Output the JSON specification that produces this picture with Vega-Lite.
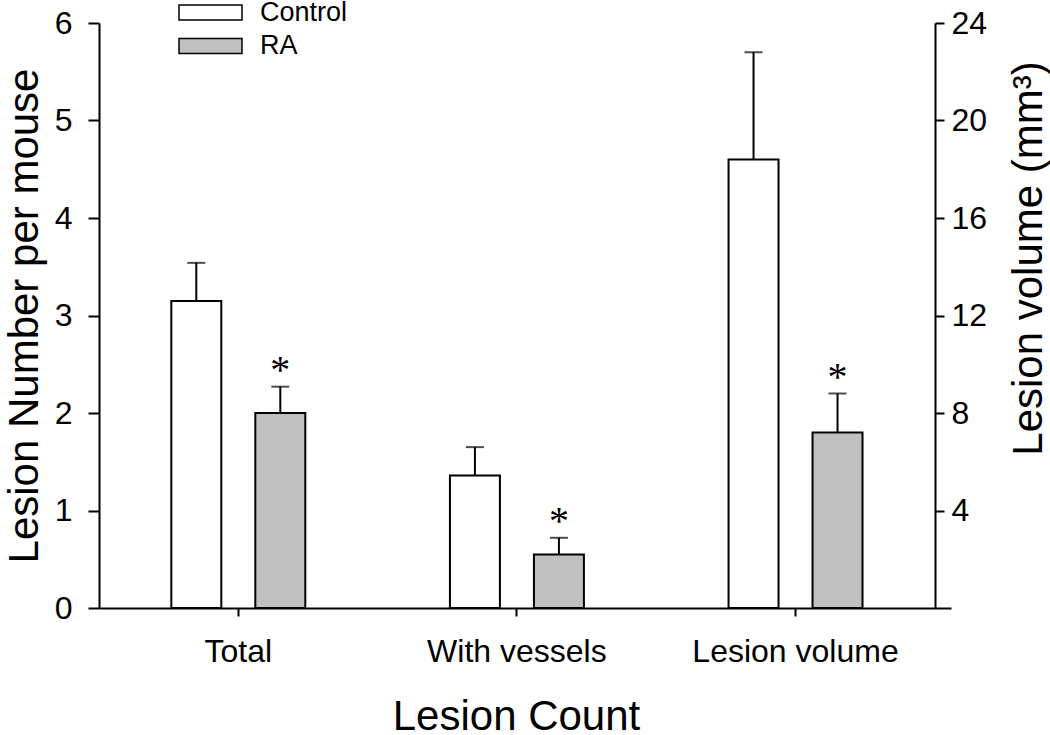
{
  "$schema": "https://vega.github.io/schema/vega-lite/v6.json",
  "width": 852,
  "height": 585,
  "autosize": {"type": "none"},
  "padding": {"left": 99, "top": 23, "right": 99, "bottom": 127},
  "background": "white",
  "config": {
    "view": {"stroke": null},
    "font": "Liberation Sans",
    "axis": {
      "labelFont": "Liberation Sans",
      "titleFont": "Liberation Sans",
      "labelFontSize": 32,
      "titleFontSize": 42,
      "titleFontWeight": "normal",
      "labelColor": "black",
      "titleColor": "black",
      "domainColor": "black",
      "tickColor": "black",
      "domainWidth": 2,
      "tickWidth": 2,
      "labelLimit": 0,
      "grid": false
    },
    "legend": {
      "labelFont": "Liberation Sans",
      "labelFontSize": 27,
      "labelColor": "black"
    }
  },
  "data": {
    "values": [
      {"group": "Total", "treatment": "Control", "value": 3.15, "upper": 3.54, "measure": "count", "star": ""},
      {"group": "Total", "treatment": "RA", "value": 2.0, "upper": 2.27, "measure": "count", "star": "*"},
      {"group": "With vessels", "treatment": "Control", "value": 1.36, "upper": 1.65, "measure": "count", "star": ""},
      {"group": "With vessels", "treatment": "RA", "value": 0.55, "upper": 0.72, "measure": "count", "star": "*"},
      {"group": "Lesion volume", "treatment": "Control", "value": 18.4, "upper": 22.8, "measure": "volume", "star": ""},
      {"group": "Lesion volume", "treatment": "RA", "value": 7.2, "upper": 8.8, "measure": "volume", "star": "*"}
    ]
  },
  "encoding": {
    "x": {
      "field": "group",
      "type": "nominal",
      "sort": ["Total", "With vessels", "Lesion volume"],
      "scale": {"domain": ["Total", "With vessels", "Lesion volume"], "paddingInner": 0, "paddingOuter": 0.029, "align": 0},
      "axis": {"title": "Lesion Count", "labelAngle": 0, "tickSize": 8, "labelPadding": 20, "titlePadding": 29, "titleX": 417}
    },
    "xOffset": {
      "field": "treatment",
      "type": "nominal",
      "scale": {"domain": ["Control", "RA"], "paddingInner": 0.405, "paddingOuter": 0.861}
    }
  },
  "layer": [
    {
      "transform": [{"filter": "datum.measure == 'count'"}],
      "encoding": {
        "y": {
          "field": "value",
          "type": "quantitative",
          "scale": {"domain": [0, 6], "nice": false, "zero": true},
          "axis": {"orient": "left", "title": "Lesion Number per mouse", "values": [0, 1, 2, 3, 4, 5, 6], "tickSize": 11, "labelPadding": 16, "titlePadding": 8}
        }
      },
      "layer": [
        {
          "mark": {"type": "bar", "stroke": "black", "strokeWidth": 2},
          "encoding": {
            "fill": {
              "field": "treatment",
              "type": "nominal",
              "scale": {"domain": ["Control", "RA"], "range": ["#ffffff", "#c0c0c0"]},
              "legend": {
                "title": null,
                "orient": "none",
                "legendX": 95,
                "legendY": -27,
                "padding": 0,
                "symbolType": "M-2,-0.48H2V0.48H-2Z",
                "symbolSize": 992,
                "symbolStrokeColor": "black",
                "symbolStrokeWidth": 1.5,
                "symbolOpacity": 1,
                "labelOffset": 33,
                "rowPadding": 3.5
              }
            }
          }
        },
        {
          "mark": {"type": "rule", "color": "black", "strokeWidth": 2},
          "encoding": {"y2": {"field": "upper"}}
        },
        {
          "mark": {"type": "tick", "color": "black", "thickness": 2, "size": 18},
          "encoding": {"y": {"field": "upper", "type": "quantitative"}}
        },
        {
          "mark": {"type": "text", "font": "Liberation Serif", "fontSize": 40, "baseline": "alphabetic", "dy": -4, "color": "black"},
          "encoding": {"y": {"field": "upper", "type": "quantitative"}, "text": {"field": "star"}}
        }
      ]
    },
    {
      "transform": [{"filter": "datum.measure == 'volume'"}],
      "encoding": {
        "y": {
          "field": "value",
          "type": "quantitative",
          "scale": {"domain": [0, 24], "nice": false, "zero": true},
          "axis": {"orient": "right", "offset": -16, "title": "Lesion volume (mm³)", "values": [4, 8, 12, 16, 20, 24], "tickSize": 9, "labelPadding": 7, "titleAngle": 270, "titleBaseline": "alphabetic", "titleAlign": "center", "titleX": 106, "titleY": 235}
        }
      },
      "layer": [
        {
          "mark": {"type": "bar", "stroke": "black", "strokeWidth": 2},
          "encoding": {
            "fill": {"field": "treatment", "type": "nominal"}
          }
        },
        {
          "mark": {"type": "rule", "color": "black", "strokeWidth": 2},
          "encoding": {"y2": {"field": "upper"}}
        },
        {
          "mark": {"type": "tick", "color": "black", "thickness": 2, "size": 18},
          "encoding": {"y": {"field": "upper", "type": "quantitative"}}
        },
        {
          "mark": {"type": "text", "font": "Liberation Serif", "fontSize": 40, "baseline": "alphabetic", "dy": -4, "color": "black"},
          "encoding": {"y": {"field": "upper", "type": "quantitative"}, "text": {"field": "star"}}
        }
      ]
    }
  ],
  "resolve": {"scale": {"y": "independent"}, "axis": {"y": "independent"}}
}
